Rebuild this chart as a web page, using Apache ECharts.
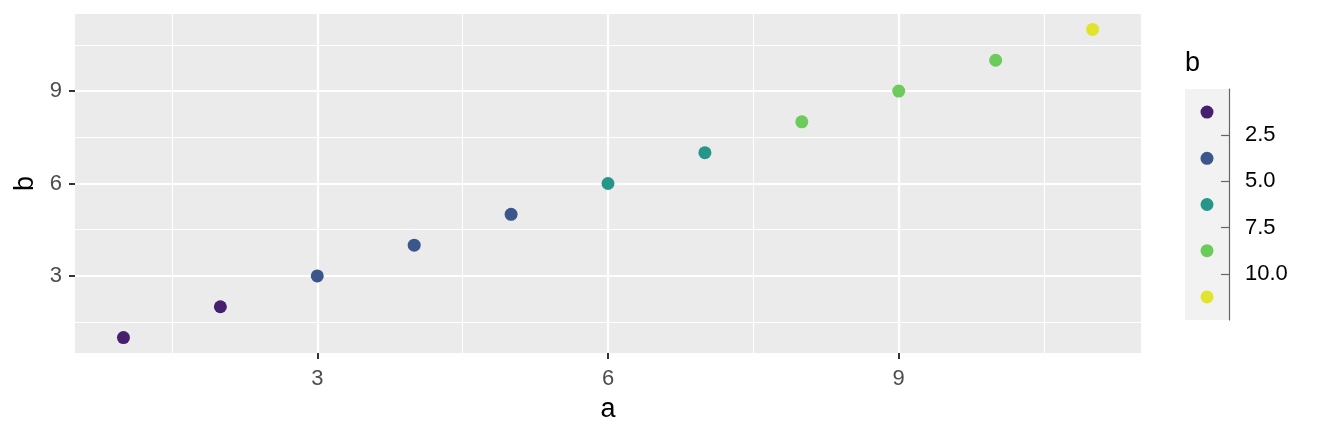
<!DOCTYPE html>
<html>
<head>
<meta charset="utf-8">
<script src="https://cdn.jsdelivr.net/npm/echarts@6/dist/echarts.min.js"></script>
<style>html,body{margin:0;padding:0;background:#fff}#c{width:1320px;height:438px}</style>
</head>
<body>
<div id="c"></div>
<script>
const aValues = [1, 2, 3, 4, 5, 6, 7, 8, 9, 10, 11];
const bValues = [1, 2, 3, 4, 5, 6, 7, 8, 9, 10, 11];
const majorTicks = [3, 6, 9];
const minorTicks = [1.5, 4.5, 7.5, 10.5];
const binBreaks = [2.5, 5, 7.5, 10];
const binColors = ['#471F6F', '#3B568B', '#26968A', '#6CCB5A', '#E2E32C'];
const legendKeys = [1.25, 3.75, 6.25, 8.75, 11.25];

const FONT = '"Liberation Sans", Arial, sans-serif';
const pieces = binColors.map((c, i) => {
  const p = { color: c };
  if (i > 0) p.gt = binBreaks[i - 1];
  if (i < binBreaks.length) p.lte = binBreaks[i];
  return p;
});

const gridLineData = [];
majorTicks.forEach(v => { gridLineData.push({ xAxis: v, lineStyle: { width: 2.2 } }); gridLineData.push({ yAxis: v, lineStyle: { width: 2.2 } }); });
minorTicks.forEach(v => { gridLineData.push({ xAxis: v, lineStyle: { width: 1.1 } }); gridLineData.push({ yAxis: v, lineStyle: { width: 1.1 } }); });

const chart = echarts.init(document.getElementById('c'), null, { renderer: 'canvas' });
chart.setOption({
  animation: false,
  backgroundColor: '#ffffff',
  textStyle: { fontFamily: FONT },
  title: { text: 'b', left: 1185, top: 50, padding: 0, textStyle: { fontFamily: FONT, fontSize: 27, fontWeight: 'normal', color: '#000' } },
  grid: [
    { left: 75, right: 179, top: 14, bottom: 85, show: true, backgroundColor: '#EBEBEB', borderWidth: 0 },
    { left: 1185, top: 89, width: 44, height: 231, show: true, backgroundColor: '#F2F2F2', borderWidth: 0 }
  ],
  xAxis: [
    {
      type: 'value', gridIndex: 0, min: 0.5, max: 11.5,
      name: 'a', nameLocation: 'middle', nameGap: 43,
      nameTextStyle: { fontFamily: FONT, fontSize: 27, color: '#000' },
      axisLine: { show: false, onZero: false },
      axisTick: { show: true, customValues: majorTicks, length: 6, lineStyle: { color: '#333', width: 2 } },
      axisLabel: { customValues: majorTicks, color: '#4D4D4D', fontSize: 22, fontFamily: FONT, margin: 15 },
      splitLine: { show: false }
    },
    { type: 'value', gridIndex: 1, min: 0, max: 1, show: false }
  ],
  yAxis: [
    {
      type: 'value', gridIndex: 0, min: 0.5, max: 11.5,
      name: 'b', nameLocation: 'middle', nameGap: 31, nameRotate: 90,
      nameTextStyle: { fontFamily: FONT, fontSize: 27, color: '#000' },
      axisLine: { show: false, onZero: false },
      axisTick: { show: true, customValues: majorTicks, length: 6, lineStyle: { color: '#333', width: 2 } },
      axisLabel: { customValues: majorTicks, color: '#4D4D4D', fontSize: 22, fontFamily: FONT, margin: 13 },
      splitLine: { show: false }
    },
    {
      type: 'value', gridIndex: 1, position: 'right', inverse: true, min: 0, max: 12.5,
      axisLine: { show: true, onZero: false, lineStyle: { color: '#666', width: 1.2 } },
      axisTick: { show: true, inside: true, customValues: binBreaks, length: 8, lineStyle: { color: '#666', width: 1.2 } },
      axisLabel: { customValues: binBreaks, formatter: v => v.toFixed(1), color: '#000', fontSize: 22, fontFamily: FONT, margin: 16 },
      splitLine: { show: false }
    }
  ],
  visualMap: { type: 'piecewise', show: false, dimension: 1, seriesIndex: [1, 2], pieces: pieces },
  series: [
    {
      type: 'line', xAxisIndex: 0, yAxisIndex: 0, data: [], z: 1, silent: true,
      markLine: { silent: true, symbol: 'none', animation: false, label: { show: false },
        lineStyle: { color: '#ffffff', type: 'solid' }, data: gridLineData }
    },
    {
      type: 'scatter', xAxisIndex: 0, yAxisIndex: 0, z: 5, symbolSize: 13,
      itemStyle: { opacity: 1 },
      data: aValues.map((a, i) => [a, bValues[i]])
    },
    {
      type: 'scatter', xAxisIndex: 1, yAxisIndex: 1, z: 5, symbolSize: 13,
      itemStyle: { opacity: 1 },
      data: legendKeys.map(k => [0.5, k])
    }
  ]
});
</script>
</body>
</html>
